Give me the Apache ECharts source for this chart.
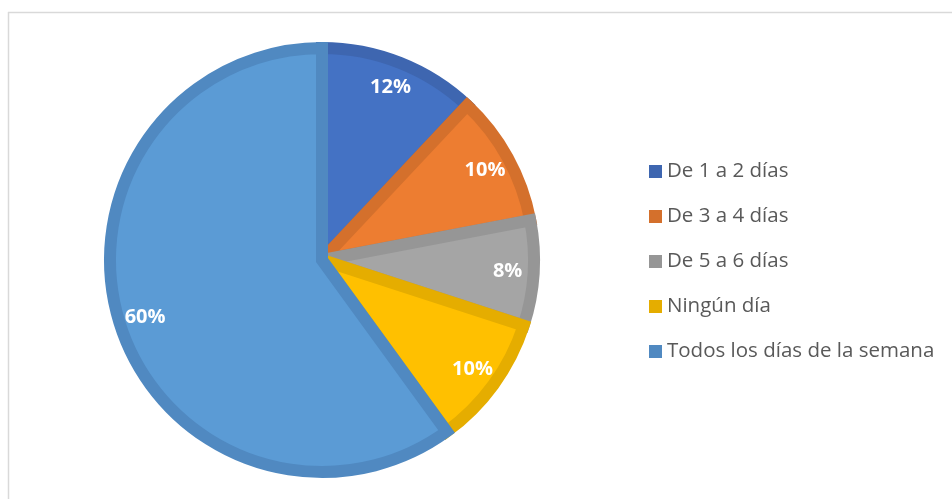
<!DOCTYPE html>
<html>
<head>
<meta charset="utf-8">
<script src="https://cdn.jsdelivr.net/npm/echarts@6/dist/echarts.min.js"></script>
<style>
  html, body { margin: 0; padding: 0; background: #fff; }
  #chart { width: 952px; height: 499px; }
</style>
</head>
<body>
<div id="chart"></div>
<script>
// categorias y valores (%)
var categorias = ['De 1 a 2 días', 'De 3 a 4 días', 'De 5 a 6 días', 'Ningún día', 'Todos los días de la semana']
var valores = [12, 10, 8, 10, 60]
var colores = ['#4472C4', '#ED7D31', '#A5A5A5', '#FFC000', '#5B9BD5']
var bordes = ['#3E66B0', '#D4702C', '#969696', '#E5AD00', '#5089C1']

var chart = echarts.init(document.getElementById('chart'))

var datos = categorias.map(function(c, i) {
  return {
    name: c,
    value: valores[i],
    itemStyle: { color: colores[i], borderColor: bordes[i] }
  }
})

var option = {
  backgroundColor: '#fff',
  animation: false,
  graphic: [
    { type: 'line', shape: { x1: 8.5, y1: 12, x2: 8.5, y2: 499 }, style: { stroke: '#D9D9D9', lineWidth: 1.5 } },
    { type: 'line', shape: { x1: 8, y1: 12.5, x2: 952, y2: 12.5 }, style: { stroke: '#D9D9D9', lineWidth: 1.5 } }
  ],
  legend: {
    orient: 'vertical',
    left: 649,
    top: 161,
    padding: 0,
    itemWidth: 13,
    itemHeight: 13,
    itemGap: 24,
    icon: 'rect',
    data: categorias.map(function(c, i) {
      return { name: c, itemStyle: { color: bordes[i], borderWidth: 0 } }
    }),
    textStyle: { fontFamily: 'Open Sans', fontSize: 20.5, color: '#595959', lineHeight: 21 }
  },
  series: [
    {
      type: 'pie',
      center: [322, 260],
      radius: 212,
      startAngle: 90,
      clockwise: true,
      silent: true,
      label: { show: false },
      labelLine: { show: false },
      itemStyle: { borderWidth: 12, borderJoin: 'miter' },
      data: datos
    },
    {
      // anillo invisible para colocar las etiquetas
      type: 'pie',
      center: [322, 260],
      radius: [168, 198],
      startAngle: 90,
      clockwise: true,
      silent: true,
      itemStyle: { color: 'rgba(0,0,0,0)' },
      label: {
        show: true,
        position: 'inside',
        formatter: '{c}%',
        color: '#fff',
        fontFamily: 'Open Sans',
        fontWeight: 'bold',
        fontSize: 20
      },
      labelLine: { show: false },
      data: categorias.map(function(c, i) { return { name: c, value: valores[i] } })
    }
  ]
}

chart.setOption(option)
</script>
</body>
</html>
